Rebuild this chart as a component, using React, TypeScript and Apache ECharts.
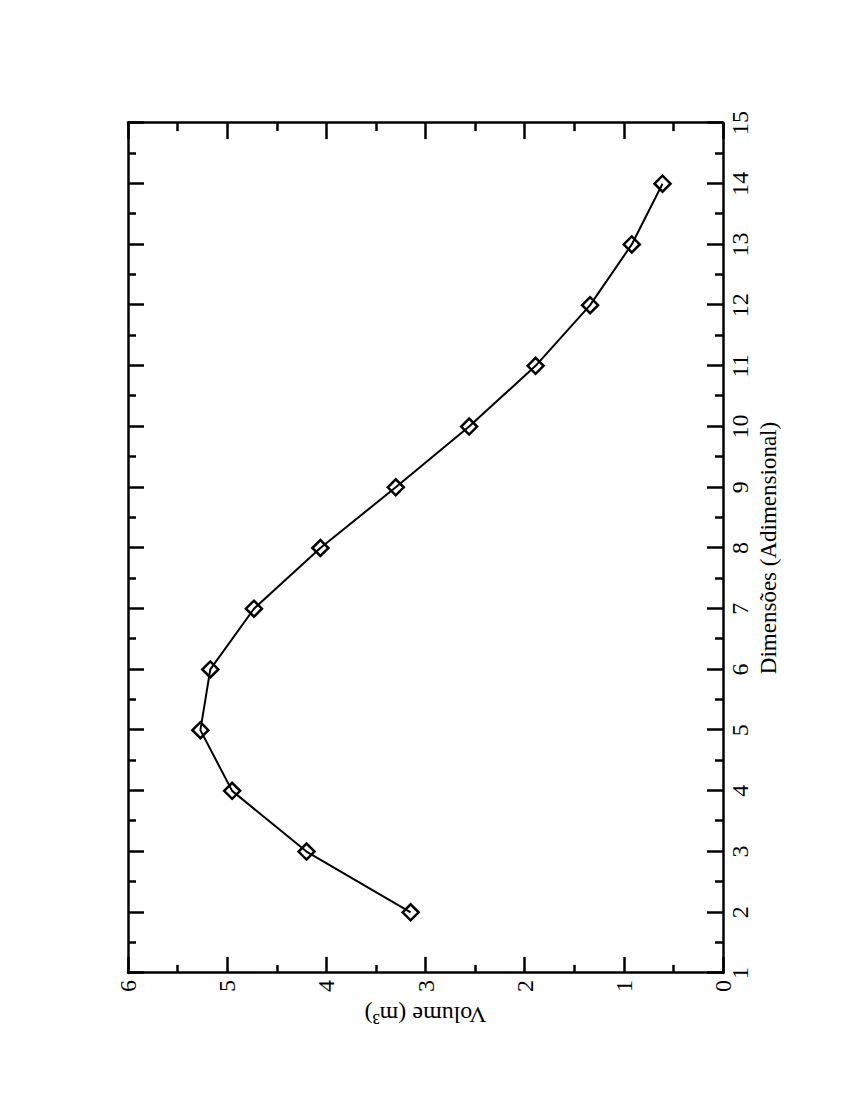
import React, { useEffect, useRef } from "react";
import * as echarts from "echarts";

const dimensions = [2, 3, 4, 5, 6, 7, 8, 9, 10, 11, 12, 13, 14];
const volumes = [3.15, 4.2, 4.95, 5.27, 5.17, 4.73, 4.06, 3.3, 2.56, 1.89, 1.34, 0.92, 0.61];

const xTitle = "Dimensões (Adimensional)";
const yTitle = "Volume (m³)";

const FONT = "'Liberation Serif', 'Times New Roman', serif";

export default function App() {
  const ref = useRef<HTMLDivElement>(null);

  useEffect(() => {
    if (!ref.current) return;
    const chart = echarts.init(ref.current, undefined, { renderer: "svg", width: 1100, height: 850 });
    const axisCommon = {
      axisLine: { show: true, onZero: false, lineStyle: { color: "#000", width: 2.5 } },
      axisTick: { show: true, inside: true, length: 16, lineStyle: { color: "#000", width: 2.5 } },
      minorTick: { show: true, splitNumber: 2, length: 8, lineStyle: { color: "#000", width: 2.5 } },
      splitLine: { show: false },
      minorSplitLine: { show: false },
    };
    const data = dimensions.map((d, i) => [d, volumes[i]]);
    chart.setOption({
      animation: false,
      backgroundColor: "#fff",
      textStyle: { fontFamily: FONT },
      grid: { left: 127, right: 123, top: 128, bottom: 127, containLabel: false },
      xAxis: [
        {
          ...axisCommon,
          type: "value",
          position: "bottom",
          min: 1,
          max: 15,
          interval: 1,
          name: xTitle,
          nameLocation: "middle",
          nameGap: 19,
          nameTextStyle: { fontFamily: FONT, fontSize: 23, color: "#000" },
          axisLabel: {
            show: true,
            margin: 5,
            fontFamily: FONT,
            fontSize: 24,
            color: "#000",
            showMinLabel: true,
            showMaxLabel: true,
          },
        },
        {
          ...axisCommon,
          type: "value",
          position: "top",
          min: 1,
          max: 15,
          interval: 1,
          axisLabel: { show: false },
        },
      ],
      yAxis: [
        {
          ...axisCommon,
          type: "value",
          position: "left",
          min: 0,
          max: 6,
          interval: 1,
          name: yTitle,
          nameLocation: "middle",
          nameRotate: 90,
          nameGap: 18,
          nameTextStyle: { fontFamily: FONT, fontSize: 24, color: "#000" },
          axisLabel: {
            show: true,
            margin: 7,
            fontFamily: FONT,
            fontSize: 24,
            color: "#000",
            showMinLabel: true,
            showMaxLabel: true,
          },
        },
        {
          ...axisCommon,
          type: "value",
          position: "right",
          min: 0,
          max: 6,
          interval: 1,
          axisLabel: { show: false },
        },
      ],
      series: [
        {
          type: "line",
          xAxisIndex: 0,
          yAxisIndex: 0,
          data,
          symbol: "diamond",
          symbolSize: 16,
          showAllSymbol: true,
          lineStyle: { color: "#000", width: 2 },
          itemStyle: { color: "transparent", borderColor: "#000", borderWidth: 2.5 },
          emphasis: { disabled: true },
        },
      ],
    });
    return () => chart.dispose();
  }, []);

  return (
    <div style={{ position: "absolute", left: 0, top: 0, width: 850, height: 1100, overflow: "hidden", background: "#fff" }}>
      <div
        ref={ref}
        style={{
          position: "absolute",
          left: 0,
          top: 0,
          width: 1100,
          height: 850,
          transformOrigin: "0 0",
          transform: "translateY(1100px) rotate(-90deg)",
        }}
      />
    </div>
  );
}
